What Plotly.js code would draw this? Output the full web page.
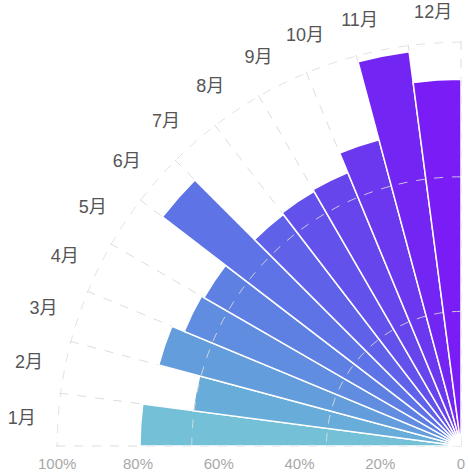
<!DOCTYPE html>
<html>
<head>
<meta charset="utf-8">
<script src="https://cdn.plot.ly/plotly-3.0.1.min.js"></script>
<style>html,body{margin:0;padding:0;background:#fff;}#chart{width:470px;height:473px;}</style>
</head>
<body>
<div id="chart"></div>
<script>
// Data
const months = ['1月','2月','3月','4月','5月','6月','7月','8月','9月','10月','11月','12月'];
const values = [79.5, 67.0, 77.5, 74.2, 73.5, 93.2, 72.3, 72.8, 73.3, 78.5, 98.5, 90.8];
const barColors = ['#73c0d7','#68acd9','#649ddc','#608de0','#5e80e3','#5e73e6','#5f62e8','#6252eb','#6645ec','#6b37ef','#7325f3','#7a1cf6'];
const radialTickVals = [0, 20, 40, 60, 80, 100];
const radialTickText = ['0', '20%', '40%', '60%', '80%', '100%'];
const gridCircles = [100/3, 200/3, 100];

// angular placement: 12 slots across the quarter from 180° down to 90°
const slot = 90 / months.length;
const thetas = months.map((m, i) => 180 - (i + 0.5) * slot);
const bounds = [];
for (let i = 0; i <= months.length; i++) bounds.push(90 + i * slot);

const font = 'Liberation Sans, Arial, Noto Sans CJK SC, sans-serif';

const traces = [
  {
    type: 'barpolar',
    subplot: 'polar',
    r: values,
    theta: thetas,
    width: months.map(() => slot),
    marker: { color: barColors, line: { color: '#ffffff', width: 1.5 } },
    hoverinfo: 'skip'
  },
  {
    type: 'scatterpolar',
    subplot: 'polar2',
    r: [0],
    theta: [180],
    mode: 'markers',
    marker: { opacity: 0, size: 1 },
    hoverinfo: 'skip'
  }
];

const sharedRange = [0, 100.3];
const layout = {
  width: 470,
  height: 473,
  margin: { l: 56, r: 9, t: 41, b: 27 },
  paper_bgcolor: '#ffffff',
  showlegend: false,
  polar: {
    domain: { x: [0, 1], y: [0, 1] },
    sector: [90, 180],
    bgcolor: 'rgba(0,0,0,0)',
    radialaxis: {
      range: sharedRange,
      angle: 180,
      side: 'counterclockwise',
      tickvals: radialTickVals,
      ticktext: radialTickText,
      showgrid: false,
      showline: false,
      ticks: 'outside',
      ticklen: 1,
      tickcolor: 'rgba(0,0,0,0)',
      tickangle: 180,
      tickfont: { family: font, size: 15, color: '#a8a8a8' }
    },
    angularaxis: {
      type: 'linear',
      thetaunit: 'degrees',
      direction: 'counterclockwise',
      rotation: 0,
      tickvals: bounds,
      showticklabels: false,
      ticks: '',
      showline: false,
      showgrid: true,
      gridcolor: '#dddddd',
      griddash: 'dash',
      gridwidth: 1
    }
  },
  polar2: {
    domain: { x: [0, 1], y: [0, 1] },
    sector: [90, 180],
    bgcolor: 'rgba(0,0,0,0)',
    radialaxis: {
      range: sharedRange,
      angle: 180,
      tickvals: gridCircles,
      showticklabels: false,
      showgrid: true,
      gridcolor: 'rgba(221,221,221,0.85)',
      griddash: 'dash',
      gridwidth: 1,
      showline: false,
      ticks: ''
    },
    angularaxis: {
      type: 'linear',
      thetaunit: 'degrees',
      direction: 'counterclockwise',
      rotation: 0,
      tickvals: thetas,
      ticktext: months,
      showgrid: false,
      showline: false,
      ticks: 'outside',
      ticklen: 17,
      tickcolor: 'rgba(0,0,0,0)',
      tickfont: { family: font, size: 18, color: '#555555' }
    }
  }
};

Plotly.newPlot('chart', traces, layout, { displayModeBar: false, staticPlot: true });
</script>
</body>
</html>
